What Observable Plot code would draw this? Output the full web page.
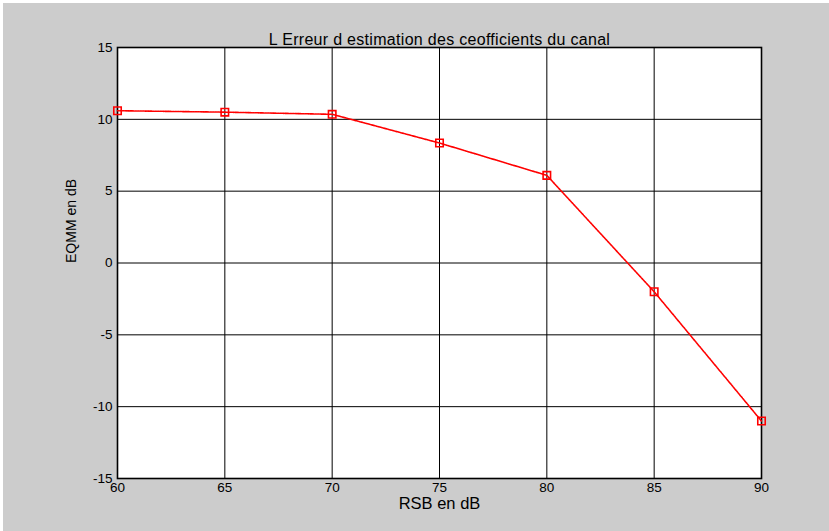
<!DOCTYPE html>
<html>
<head>
<meta charset="utf-8">
<script src="https://cdn.jsdelivr.net/npm/d3@7"></script>
<script src="https://cdn.jsdelivr.net/npm/@observablehq/plot@0.6"></script>
<style>
  html, body { margin: 0; padding: 0; background: #ffffff; }
  #chart { position: absolute; left: 3px; top: 3px; width: 826px; height: 528px; background: #cccccc; }
  #chart svg { display: block; background: #cccccc; }
</style>
</head>
<body>
<div id="chart"></div>
<script>
const titleText = "L Erreur d estimation des ceofficients du canal";
const xLabel = "RSB en dB";
const yLabel = "EQMM en dB";
const rsb = [60, 65, 70, 75, 80, 85, 90];
const eqmm = [10.6, 10.5, 10.35, 8.35, 6.1, -2.0, -11.0];
const xTicks = [60, 65, 70, 75, 80, 85, 90];
const yTicks = [-15, -10, -5, 0, 5, 10, 15];

const data = rsb.map((x, i) => ({x, y: eqmm[i]}));
const font = "'Liberation Sans', Arial, Helvetica, sans-serif";

const plot = Plot.plot({
  width: 826,
  height: 528,
  marginLeft: 114,
  marginRight: 68,
  marginTop: 44,
  marginBottom: 53,
  style: {background: "#cccccc", fontFamily: font, fontSize: "13.5px", color: "#000"},
  x: {domain: [60, 90], ticks: xTicks},
  y: {domain: [-15, 15], ticks: yTicks},
  marks: [
    Plot.frame({fill: "white", stroke: "none"}),
    Plot.ruleX(xTicks.slice(1, -1), {stroke: "#000", strokeWidth: 1}),
    Plot.ruleY(yTicks.slice(1, -1), {stroke: "#000", strokeWidth: 1}),
    Plot.frame({stroke: "#000", strokeWidth: 1.6}),
    Plot.axisX({ticks: xTicks, tickSize: 0, tickPadding: 4, label: null, fontSize: 13.5, tickFormat: d => String(d)}),
    Plot.axisY({ticks: yTicks, tickSize: 0, tickPadding: 5, label: null, fontSize: 13.5, tickFormat: d => d < 0 ? "-" + Math.abs(d) : String(d)}),
    Plot.line(data, {x: "x", y: "y", stroke: "#ff0000", strokeWidth: 1.6, strokeDasharray: "1.6,0.9"}),
    Plot.dot(data, {x: "x", y: "y", symbol: "square", r: 4.2, stroke: "#ff0000", strokeWidth: 1.6, fill: "none"}),
    Plot.text([titleText], {text: d => d, frameAnchor: "top", dy: -13.5, fontSize: 16, fill: "#000", style: "letter-spacing:0.3px"}),
    Plot.text([xLabel], {text: d => d, frameAnchor: "bottom", dy: 30, fontSize: 16.5, fill: "#000"}),
    Plot.text([yLabel], {text: d => d, frameAnchor: "left", dx: -45.5, rotate: -90, fontSize: 14, fill: "#000"})
  ]
});
plot.querySelectorAll("text").forEach(t => { if (t.textContent === titleText) t.setAttribute("letter-spacing", "0.3"); });
document.getElementById("chart").appendChild(plot);
</script>
</body>
</html>
